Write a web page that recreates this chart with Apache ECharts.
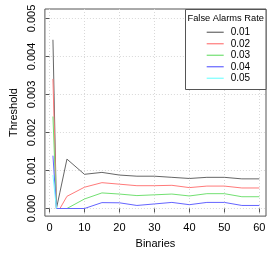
<!DOCTYPE html>
<html><head><meta charset="utf-8">
<script src="https://cdn.jsdelivr.net/npm/echarts@6/dist/echarts.min.js"></script>
<style>html,body{margin:0;padding:0;background:#fff}#c{width:269px;height:254px}</style>
</head><body><div id="c"></div>
<script>
const binaries = [1, 2, 3, 5, 10, 15, 20, 25, 30, 35, 40, 45, 50, 55, 60];
const rates = ['0.01', '0.02', '0.03', '0.04', '0.05'];
const far001 = [0.00444, 0, 0.00043, 0.0013, 0.0009, 0.00095, 0.00088, 0.00085, 0.00085, 0.00082, 0.00079, 0.00082, 0.00082, 0.00078, 0.00078];
const far002 = [0.00341, 0, 0, 0.00032, 0.00056, 0.00068, 0.00064, 0.0006, 0.0006, 0.00061, 0.00055, 0.00059, 0.00059, 0.00054, 0.00054];
const far003 = [0.00242, 0, 0, 0, 0.00025, 0.00041, 0.00038, 0.00034, 0.00036, 0.00038, 0.00033, 0.00039, 0.00039, 0.00031, 0.00031];
const far004 = [0.00139, 0, 0, 0, 0, 0.000155, 0.00015, 0.00008, 0.00012, 0.00016, 0.0001, 0.00016, 0.00016, 0.00008, 0.00008];
const far005 = [0.00088, 0, null, null, null, null, null, null, null, null, null, null, null, null, null];
const xTicks = [0, 10, 20, 30, 40, 50, 60];
const yTicks = [0, 0.001, 0.002, 0.003, 0.004, 0.005];
const colors = ['#666666', '#ff7a7a', '#72e072', '#6464ff', '#7affff'];

const allSeries = [far001, far002, far003, far004, far005];
const FONT = 'Liberation Sans';
const chart = echarts.init(document.getElementById('c'), null, {renderer: 'canvas'});
chart.setOption({
  animation: false,
  backgroundColor: '#fff',
  grid: {left: 34, top: 9, width: 232, height: 211, show: true, borderColor: '#555', borderWidth: 1, containLabel: false},
  xAxis: {
    type: 'value', min: -1.3, max: 61.9,
    name: 'Binaries', nameLocation: 'middle', nameGap: 21,
    nameTextStyle: {fontFamily: FONT, fontSize: 11, color: '#000'},
    axisLine: {show: false},
    axisTick: {show: true, inside: false, length: 4, customValues: xTicks, lineStyle: {color: '#555'}},
    axisLabel: {customValues: xTicks, fontFamily: FONT, fontSize: 11, color: '#000', margin: 6, formatter: v => String(v)},
    splitLine: {show: true, lineStyle: {type: [1, 2], color: '#d8d8d8', width: 1}}
  },
  yAxis: {
    type: 'value', min: -0.0002, max: 0.00525,
    name: 'Threshold', nameLocation: 'middle', nameGap: 19, nameRotate: 90,
    nameTextStyle: {fontFamily: FONT, fontSize: 11, color: '#000'},
    axisLine: {show: false},
    axisTick: {show: true, inside: false, length: 4, customValues: yTicks, lineStyle: {color: '#555'}},
    axisLabel: {customValues: yTicks, rotate: 90, fontFamily: FONT, fontSize: 11, color: '#000', margin: 7, formatter: v => v.toFixed(3)},
    splitLine: {show: true, lineStyle: {type: [1, 2], color: '#d8d8d8', width: 1}}
  },
  legend: {
    orient: 'vertical', left: 206.7, top: 26.5, padding: 0, itemGap: 0, z: 20, zlevel: 0,
    itemWidth: 17, itemHeight: 1.2, icon: 'rect',
    textStyle: {fontFamily: FONT, fontSize: 10, color: '#000', lineHeight: 11.5, padding: [0, 0, 0, 2]},
    data: rates
  },
  graphic: [
    {type: 'rect', z: 5, shape: {x: 185.5, y: 9.5, width: 80.5, height: 80}, style: {fill: '#fff', stroke: '#555', lineWidth: 1}},
    {type: 'text', z: 6, x: 225.7, y: 18, style: {text: 'False Alarms Rate', fontFamily: FONT, fontSize: 9.3, fill: '#000', align: 'center', verticalAlign: 'middle'}}
  ],
  series: allSeries.map((vals, i) => ({
    name: rates[i], type: 'line', symbol: 'none', color: colors[i],
    lineStyle: {color: colors[i], width: 1},
    data: binaries.map((b, j) => [b, vals[j]]),
    connectNulls: false, z: 2 + i
  }))
});
</script></body></html>
